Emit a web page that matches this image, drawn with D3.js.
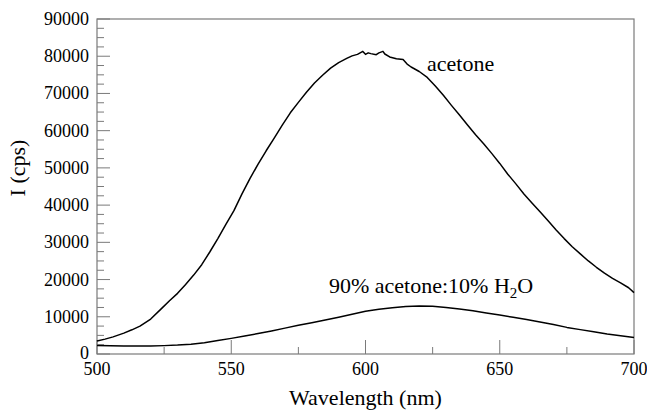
<!DOCTYPE html>
<html><head><meta charset="utf-8"><script src="https://cdn.jsdelivr.net/npm/d3@7"></script></head>
<body style="margin:0">
<svg id="chart" width="647" height="410"></svg>
<script>
// ---- data ----
const acetoneWl = [500,503,506,510,513,516,520,524,527,530,533,536,539,542,545,548,551,554,557,560,563,566,569,572,575,578,581,584,587,590,593,595,597,598,599,600,601,602,604,605,606.5,607.2,609,611.5,614,615.5,617,620,623,626,629,632,635,638,641,644,647,650,653,656,659,662,665,668,671,674,677,680,683,686,689,692,695,698,700];
const acetoneI = [3500,4000,4600,5600,6500,7500,9400,12200,14300,16300,18700,21200,24000,27400,31000,34800,38500,43000,47200,51000,54600,58000,61500,64800,67600,70300,72800,74900,76800,78300,79400,80100,80500,80900,81300,80500,80900,80700,80400,80900,81300,80600,79800,79300,79100,77900,77100,75900,74300,72000,69500,66800,64200,61500,58900,56500,53900,51200,48300,45700,43000,40600,38200,35800,33300,31000,28800,26900,25000,23300,21700,20300,19100,17800,16500];

const mixWl = [500,505,510,515,520,525,530,535,540,545,550,555,560,565,570,575,580,585,590,595,600,605,610,615,620,625,630,635,640,645,650,655,660,665,670,675,680,685,690,695,700];
const mixI = [2300,2220,2150,2130,2150,2250,2400,2650,3050,3600,4200,4850,5500,6200,6950,7700,8400,9150,9900,10700,11500,12000,12400,12750,12900,12800,12500,12100,11600,11000,10450,9850,9250,8600,7900,7150,6550,6000,5400,4900,4450];

const xTicks = [500,550,600,650,700];
const xMinorTicks = [525,575,625,675];
const yTicks = [0,10000,20000,30000,40000,50000,60000,70000,80000,90000];
const xLabel = "Wavelength (nm)";
const yLabel = "I (cps)";

// ---- layout ----
const FONT = "'Liberation Serif'";
const svg = d3.select("#chart");
const margin = {left: 97, right: 13, top: 19, bottom: 56};
const W = 647, H = 410;
const x = d3.scaleLinear().domain([500, 700]).range([margin.left, W - margin.right]);
const y = d3.scaleLinear().domain([0, 90000]).range([H - margin.bottom, margin.top]);
const frameColor = "#7a7a7a";

const yMinor = d3.range(0, 90001, 2500).filter(v => v % 10000 !== 0);

// y ticks (inside)
svg.selectAll("line.ymin").data(yMinor).enter().append("line").attr("class", "ymin")
  .attr("x1", x(500)).attr("x2", x(500) + 7)
  .attr("y1", d => y(d)).attr("y2", d => y(d))
  .attr("stroke", frameColor).attr("stroke-width", 1);
svg.selectAll("line.ymaj").data(yTicks).enter().append("line").attr("class", "ymaj")
  .attr("x1", x(500)).attr("x2", x(500) + 13)
  .attr("y1", d => y(d)).attr("y2", d => y(d))
  .attr("stroke", frameColor).attr("stroke-width", 1);

// x ticks (inside)
svg.selectAll("line.xmin").data(xMinorTicks).enter().append("line").attr("class", "xmin")
  .attr("x1", d => x(d)).attr("x2", d => x(d))
  .attr("y1", y(0)).attr("y2", y(0) - 7)
  .attr("stroke", frameColor).attr("stroke-width", 1);
svg.selectAll("line.xmaj").data(xTicks).enter().append("line").attr("class", "xmaj")
  .attr("x1", d => x(d)).attr("x2", d => x(d))
  .attr("y1", y(0)).attr("y2", y(0) - 14)
  .attr("stroke", frameColor).attr("stroke-width", 1);

// frame
svg.append("rect")
  .attr("x", x(500)).attr("y", y(90000))
  .attr("width", x(700) - x(500)).attr("height", y(0) - y(90000))
  .attr("fill", "none").attr("stroke", frameColor).attr("stroke-width", 1.2);

// tick labels
svg.selectAll("text.ylab").data(yTicks).enter().append("text").attr("class", "ylab")
  .style("font-family", FONT)
  .attr("x", x(500) - 8).attr("y", d => y(d) + (d === 0 ? 5 : 6))
  .attr("text-anchor", "end").attr("font-size", 18).attr("fill", "#000")
  .text(d => d);
svg.selectAll("text.xlab").data(xTicks).enter().append("text").attr("class", "xlab")
  .style("font-family", FONT)
  .attr("x", d => x(d)).attr("y", y(0) + 21)
  .attr("text-anchor", "middle").attr("font-size", 18).attr("fill", "#000")
  .text(d => d);

// axis titles
svg.append("text").style("font-family", FONT)
  .attr("x", (x(500) + x(700)) / 2).attr("y", 405)
  .attr("text-anchor", "middle").attr("font-size", 22).attr("fill", "#000")
  .text(xLabel);
svg.append("text").style("font-family", FONT)
  .attr("transform", "translate(25,168) rotate(-90)")
  .attr("text-anchor", "middle").attr("font-size", 22).attr("fill", "#000")
  .text(yLabel);

// curves
const line = d3.line().x(d => x(d[0])).y(d => y(d[1]));
const acetone = acetoneWl.map((w, i) => [w, acetoneI[i]]);
const mix = mixWl.map((w, i) => [w, mixI[i]]);
svg.append("path").datum(acetone).attr("d", line)
  .attr("fill", "none").attr("stroke", "#000").attr("stroke-width", 1.5).attr("stroke-linejoin", "round");
svg.append("path").datum(mix).attr("d", line)
  .attr("fill", "none").attr("stroke", "#000").attr("stroke-width", 1.5).attr("stroke-linejoin", "round");

// annotations
svg.append("text").style("font-family", FONT).attr("x", 427).attr("y", 71)
  .attr("font-size", 22).attr("fill", "#000").text("acetone");
const t2 = svg.append("text").style("font-family", FONT).attr("x", 329).attr("y", 293)
  .attr("font-size", 22).attr("fill", "#000");
t2.append("tspan").text("90% acetone:10% H");
t2.append("tspan").attr("font-size", 15).attr("dy", 5).text("2");
t2.append("tspan").attr("dy", -5).text("O");
</script></body></html>
